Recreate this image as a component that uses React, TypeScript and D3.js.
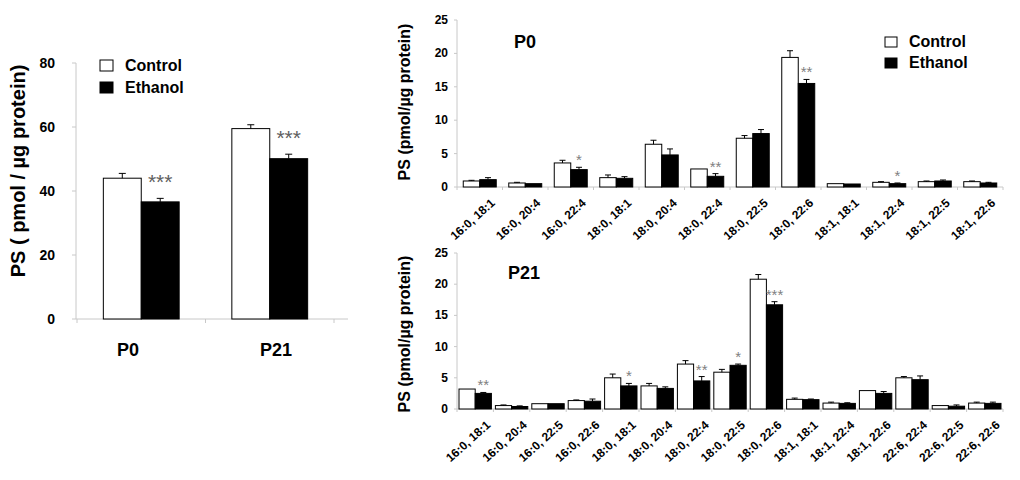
import React from "react";
import * as d3 from "d3";

// ---------- Left summary chart ----------
const TOTAL_GROUPS = ["P0", "P21"];
const TOTAL_CONTROL = [44.0, 59.5];
const TOTAL_CONTROL_ERR = [1.5, 1.2];
const TOTAL_ETHANOL = [36.6, 50.1];
const TOTAL_ETHANOL_ERR = [1.1, 1.4];
const TOTAL_SIG = ["***", "***"];
const TOTAL_TICKS = [0, 20, 40, 60, 80];

// ---------- P0 species ----------
const P0_CATS = [
  "16:0, 18:1", "16:0, 20:4", "16:0, 22:4", "18:0, 18:1", "18:0, 20:4", "18:0, 22:4",
  "18:0, 22:5", "18:0, 22:6", "18:1, 18:1", "18:1, 22:4", "18:1, 22:5", "18:1, 22:6",
];
const P0_CONTROL = [0.9, 0.6, 3.6, 1.4, 6.4, 2.7, 7.3, 19.4, 0.5, 0.7, 0.8, 0.8];
const P0_CONTROL_ERR = [0.1, 0.1, 0.4, 0.4, 0.6, 0, 0.4, 1.0, 0.05, 0.1, 0.1, 0.1];
const P0_ETHANOL = [1.1, 0.5, 2.6, 1.3, 4.8, 1.6, 8.0, 15.5, 0.45, 0.5, 0.9, 0.6];
const P0_ETHANOL_ERR = [0.3, 0.05, 0.35, 0.25, 0.9, 0.4, 0.6, 0.6, 0.05, 0.1, 0.15, 0.1];
const P0_SIG = ["", "", "*", "", "", "**", "", "**", "", "*", "", ""];

// ---------- P21 species ----------
const P21_CATS = [
  "16:0, 18:1", "16:0, 20:4", "16:0, 22:5", "16:0, 22:6", "18:0, 18:1", "18:0, 20:4",
  "18:0, 22:4", "18:0, 22:5", "18:0, 22:6", "18:1, 18:1", "18:1, 22:4", "18:1, 22:6",
  "22:6, 22:4", "22:6, 22:5", "22:6, 22:6",
];
const P21_CONTROL = [3.2, 0.55, 0.85, 1.35, 5.0, 3.7, 7.2, 5.9, 20.8, 1.55, 0.95, 2.95, 5.0, 0.55, 0.95];
const P21_CONTROL_ERR = [0, 0.1, 0.05, 0.1, 0.6, 0.4, 0.55, 0.45, 0.75, 0.2, 0.15, 0.05, 0.2, 0.05, 0.15];
const P21_ETHANOL = [2.5, 0.4, 0.85, 1.25, 3.7, 3.3, 4.5, 7.0, 16.7, 1.5, 0.9, 2.5, 4.7, 0.45, 0.9];
const P21_ETHANOL_ERR = [0.15, 0.1, 0.05, 0.35, 0.4, 0.25, 0.7, 0.2, 0.5, 0.1, 0.1, 0.3, 0.6, 0.2, 0.2];
const P21_SIG = ["**", "", "", "", "*", "", "**", "*", "***", "", "", "", "", "", ""];

const SPECIES_TICKS = [0, 5, 10, 15, 20, 25];
const SERIES = ["Control", "Ethanol"];
const FILLS = ["#ffffff", "#000000"];

const FONT = "'Liberation Sans', Arial, Helvetica, sans-serif";
const AXIS_GRAY = "#c8c8c8";
const STAR_GRAY = "#808080";
const STAR_DARK = "#606060";

function ErrorBar({ x, y0, y1, cap }: { x: number; y0: number; y1: number; cap: number }) {
  if (Math.abs(y0 - y1) < 0.5) return null;
  return (
    <g stroke="#000" strokeWidth={1}>
      <line x1={x} x2={x} y1={y0} y2={y1} />
      <line x1={x - cap / 2} x2={x + cap / 2} y1={y1} y2={y1} />
    </g>
  );
}

function Legend({ x, y, gap, fs, sq }: { x: number; y: number; gap: number; fs: number; sq: [number, number] }) {
  return (
    <g>
      {SERIES.map((s, i) => (
        <g key={s}>
          <rect x={x} y={y + i * gap - sq[1]} width={sq[0]} height={sq[1]} fill={FILLS[i]} stroke="#000" strokeWidth={1} />
          <text x={x + sq[0] + 12} y={y + i * gap} fontSize={fs} fontWeight="bold" fontFamily={FONT}>
            {s}
          </text>
        </g>
      ))}
    </g>
  );
}

function LeftChart() {
  const x0 = d3.scaleBand<string>().domain(TOTAL_GROUPS).range([77, 334]).padding(0);
  const bw = x0.bandwidth();
  const x1 = d3.scaleBand<string>().domain(SERIES).range([bw * 0.205, bw * 0.795]).padding(0);
  const xLabel = d3.scalePoint<string>().domain(TOTAL_GROUPS).range([128, 276]);
  const y = d3.scaleLinear().domain([0, 80]).range([319, 63]);
  const vals = [TOTAL_CONTROL, TOTAL_ETHANOL];
  const errs = [TOTAL_CONTROL_ERR, TOTAL_ETHANOL_ERR];
  return (
    <g>
      <line x1={76} x2={76} y1={y(0)} y2={y(80)} stroke={AXIS_GRAY} />
      <line x1={76} x2={348} y1={y(0)} y2={y(0)} stroke={AXIS_GRAY} />
      {TOTAL_TICKS.map((t) => (
        <g key={t}>
          <line x1={72} x2={76} y1={y(t)} y2={y(t)} stroke={AXIS_GRAY} />
          <text x={55} y={y(t) + 5} textAnchor="end" fontSize={14} fontWeight="bold" fontFamily={FONT}>
            {t}
          </text>
        </g>
      ))}
      {[0, 1, 2].map((i) => (
        <line key={i} x1={77 + i * bw} x2={77 + i * bw} y1={y(0)} y2={y(0) + 4} stroke={AXIS_GRAY} />
      ))}
      {TOTAL_GROUPS.map((g, gi) => (
        <g key={g}>
          {SERIES.map((s, si) => {
            const bx = (x0(g) as number) + (x1(s) as number);
            const v = vals[si][gi];
            const e = errs[si][gi];
            return (
              <g key={s}>
                <rect x={bx} y={y(v)} width={x1.bandwidth()} height={y(0) - y(v)} fill={FILLS[si]} stroke="#000" strokeWidth={1} />
                <ErrorBar x={bx + x1.bandwidth() / 2} y0={y(v)} y1={y(v + e)} cap={7} />
              </g>
            );
          })}
          <text
            x={(x0(g) as number) + (x1("Ethanol") as number) + x1.bandwidth() / 2}
            y={y(TOTAL_ETHANOL[gi] + TOTAL_ETHANOL_ERR[gi]) - 9}
            textAnchor="middle"
            fontSize={21}
            fill={STAR_DARK}
            fontFamily={FONT}
          >
            {TOTAL_SIG[gi]}
          </text>
          <text x={xLabel(g)} y={356} textAnchor="middle" fontSize={18} fontWeight="bold" fontFamily={FONT}>
            {g}
          </text>
        </g>
      ))}
      <text
        transform={`translate(25,171) rotate(-90)`}
        textAnchor="middle"
        fontSize={20}
        fontWeight="bold"
        fontFamily={FONT}
      >
        PS ( pmol / µg protein)
      </text>
      <Legend x={100} y={71} gap={22} fs={16} sq={[13, 11]} />
    </g>
  );
}

type PanelProps = {
  cats: string[];
  control: number[];
  controlErr: number[];
  ethanol: number[];
  ethanolErr: number[];
  sig: string[];
  title: string;
  top: number;
  bottom: number;
  groupFrac: number;
  titleX: number;
  titleY: number;
  labelCy: number;
  legend?: boolean;
};

function SpeciesPanel(p: PanelProps) {
  const x0 = d3.scaleBand<string>().domain(p.cats.map((c, i) => i + "")).range([457, 1003]).padding(0);
  const bw = x0.bandwidth();
  const off = (bw * (1 - p.groupFrac)) / 2;
  const x1 = d3.scaleBand<string>().domain(SERIES).range([off, bw - off]).padding(0);
  const y = d3.scaleLinear().domain([0, 25]).range([p.bottom, p.top]);
  const vals = [p.control, p.ethanol];
  const errs = [p.controlErr, p.ethanolErr];
  return (
    <g>
      <line x1={457} x2={457} y1={y(0)} y2={y(25)} stroke={AXIS_GRAY} />
      <line x1={457} x2={1003} y1={y(0)} y2={y(0)} stroke={AXIS_GRAY} />
      {SPECIES_TICKS.map((t) => (
        <g key={t}>
          <line x1={454} x2={457} y1={y(t)} y2={y(t)} stroke={AXIS_GRAY} />
          <text x={448} y={y(t) + 4} textAnchor="end" fontSize={12} fontWeight="bold" fontFamily={FONT}>
            {t}
          </text>
        </g>
      ))}
      {d3.range(p.cats.length + 1).map((i) => (
        <line key={i} x1={457 + i * bw} x2={457 + i * bw} y1={y(0)} y2={y(0) + 3} stroke={AXIS_GRAY} />
      ))}
      {p.cats.map((c, ci) => {
        const gx = x0(ci + "") as number;
        const ex = gx + (x1("Ethanol") as number) + x1.bandwidth() / 2;
        return (
          <g key={ci}>
            {SERIES.map((s, si) => {
              const bx = gx + (x1(s) as number);
              const v = vals[si][ci];
              const e = errs[si][ci];
              return (
                <g key={s}>
                  <rect x={bx} y={y(v)} width={x1.bandwidth()} height={y(0) - y(v)} fill={FILLS[si]} stroke="#000" strokeWidth={1} />
                  <ErrorBar x={bx + x1.bandwidth() / 2} y0={y(v)} y1={y(v + e)} cap={6} />
                </g>
              );
            })}
            {p.sig[ci] && (
              <text
                x={ex}
                y={y(p.ethanol[ci] + p.ethanolErr[ci]) - 2}
                textAnchor="middle"
                fontSize={15}
                fill={STAR_GRAY}
                fontFamily={FONT}
              >
                {p.sig[ci]}
              </text>
            )}
            <text
              transform={`translate(${gx + bw / 2 + 16},${y(0) + 17}) rotate(-42)`}
              textAnchor="end"
              fontSize={12}
              fontWeight="bold"
              fontFamily={FONT}
            >
              {c}
            </text>
          </g>
        );
      })}
      <text
        transform={`translate(410,${p.labelCy}) rotate(-90)`}
        textAnchor="middle"
        fontSize={16}
        fontWeight="bold"
        fontFamily={FONT}
      >
        PS (pmol/µg protein)
      </text>
      <text x={p.titleX} y={p.titleY} fontSize={18} fontWeight="bold" fontFamily={FONT}>
        {p.title}
      </text>
      {p.legend && <Legend x={885} y={47} gap={21} fs={16} sq={[12, 10]} />}
    </g>
  );
}

export default function App() {
  return (
    <svg
      width={1020}
      height={480}
      viewBox="0 0 1020 480"
      style={{ position: "absolute", left: 0, top: 0, background: "#fff" }}
    >
      <rect width={1020} height={480} fill="#fff" />
      <LeftChart />
      <SpeciesPanel
        cats={P0_CATS}
        control={P0_CONTROL}
        controlErr={P0_CONTROL_ERR}
        ethanol={P0_ETHANOL}
        ethanolErr={P0_ETHANOL_ERR}
        sig={P0_SIG}
        title="P0"
        top={20}
        bottom={187}
        groupFrac={0.725}
        titleX={514}
        titleY={48}
        labelCy={102}
        legend
      />
      <SpeciesPanel
        cats={P21_CATS}
        control={P21_CONTROL}
        controlErr={P21_CONTROL_ERR}
        ethanol={P21_ETHANOL}
        ethanolErr={P21_ETHANOL_ERR}
        sig={P21_SIG}
        title="P21"
        top={253}
        bottom={409}
        groupFrac={0.89}
        titleX={508}
        titleY={279}
        labelCy={334}
      />
    </svg>
  );
}
